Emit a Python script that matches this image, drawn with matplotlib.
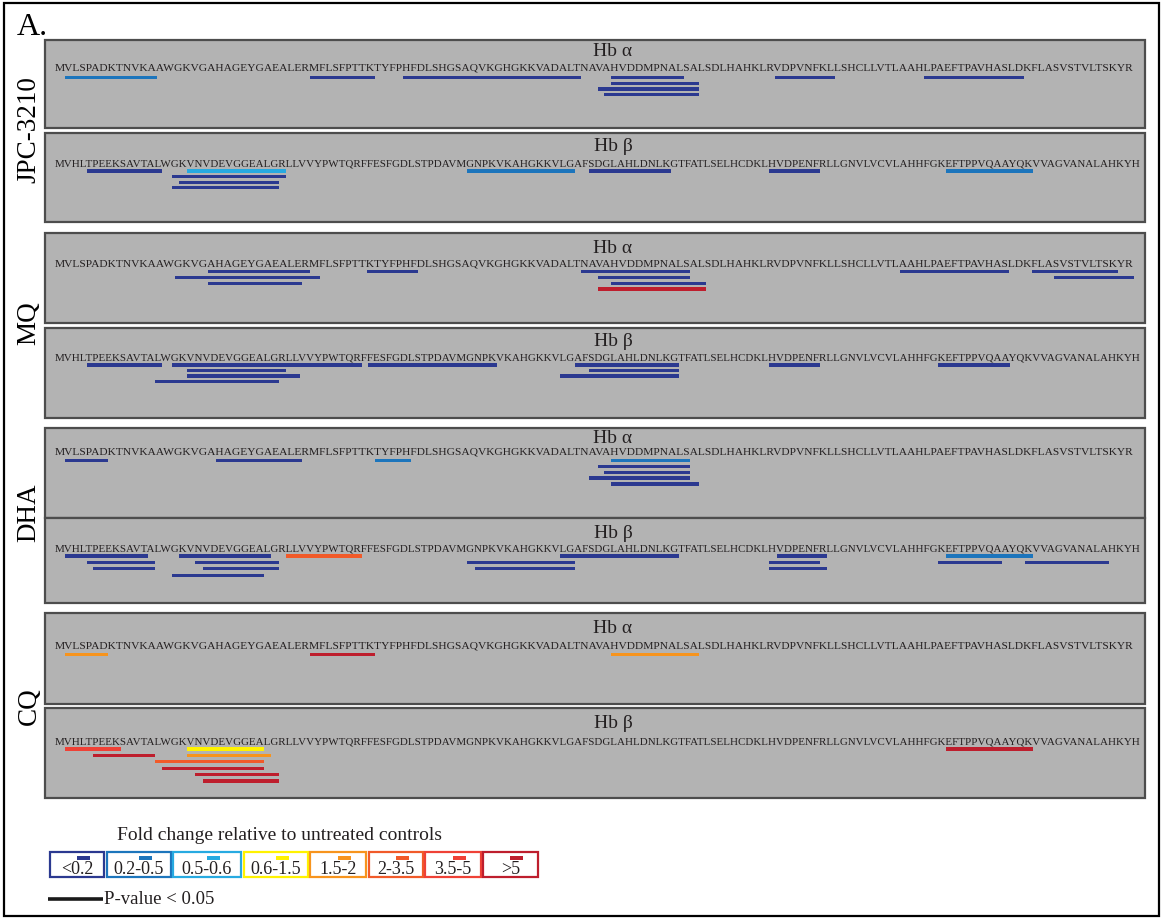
import matplotlib.pyplot as plt
from matplotlib.patches import Rectangle
from matplotlib.font_manager import FontProperties

plt.rcParams['font.family'] = ['Liberation Serif', 'DejaVu Serif']

HBA = "MVLSPADKTNVKAAWGKVGAHAGEYGAEALERMFLSFPTTKTYFPHFDLSHGSAQVKGHGKKVADALTNAVAHVDDMPNALSALSDLHAHKLRVDPVNFKLLSHCLLVTLAAHLPAEFTPAVHASLDKFLASVSTVLTSKYR"
HBB = "MVHLTPEEKSAVTALWGKVNVDEVGGEALGRLLVVYPWTQRFFESFGDLSTPDAVMGNPKVKAHGKKVLGAFSDGLAHLDNLKGTFATLSELHCDKLHVDPENFRLLGNVLVCVLAHHFGKEFTPPVQAAYQKVVAGVANALAHKYH"

fold_bins = ['<0.2', '0.2-0.5', '0.5-0.6', '0.6-1.5', '1.5-2', '2-3.5', '3.5-5', '>5']
bin_colors = ['#2b3990', '#1c75bc', '#27aae1', '#fff200', '#f7941d', '#f15a29', '#ef4136', '#be1e2d']

treatments = ['JPC-3210', 'MQ', 'DHA', 'CQ']

# peptides: (first residue, last residue, fold-change bin, row), residues are 0-based string positions
jpc_a = [(1, 12, 1, 0), (32, 40, 0, 0), (45, 50, 0, 0), (51, 67, 0, 0), (72, 80, 0, 0),
         (93, 100, 0, 0), (113, 126, 0, 0),
         (72, 82, 0, 1), (70, 82, 0, 2), (71, 82, 0, 3)]
jpc_b = [(4, 14, 0, 0), (18, 30, 2, 0), (56, 69, 1, 0), (72, 82, 0, 0), (97, 103, 0, 0), (121, 132, 1, 0),
         (16, 30, 0, 1), (17, 29, 0, 2), (16, 29, 0, 3)]
mq_a = [(19, 31, 0, 0), (40, 46, 0, 0), (68, 81, 0, 0), (110, 124, 0, 0), (128, 139, 0, 0),
        (15, 32, 0, 1), (70, 81, 0, 1), (131, 141, 0, 1),
        (19, 30, 0, 2), (72, 83, 0, 2),
        (70, 83, 7, 3)]
mq_b = [(4, 14, 0, 0), (16, 40, 0, 0), (42, 59, 0, 0), (70, 83, 0, 0), (97, 103, 0, 0), (120, 129, 0, 0),
        (18, 30, 0, 1), (72, 83, 0, 1),
        (18, 32, 0, 2), (68, 83, 0, 2),
        (14, 29, 0, 3)]
dha_a = [(1, 6, 0, 0), (20, 30, 0, 0), (41, 45, 1, 0), (72, 81, 1, 0),
         (70, 81, 0, 1), (71, 81, 0, 2), (69, 81, 0, 3), (72, 82, 0, 4)]
dha_b = [(1, 12, 0, 0), (17, 28, 0, 0), (31, 40, 5, 0), (68, 83, 0, 0), (98, 104, 0, 0), (121, 132, 1, 0),
         (4, 13, 0, 1), (19, 29, 0, 1), (56, 69, 0, 1), (97, 103, 0, 1), (120, 128, 0, 1), (132, 142, 0, 1),
         (5, 13, 0, 2), (20, 29, 0, 2), (57, 69, 0, 2), (97, 104, 0, 2),
         (16, 27, 0, 3)]
cq_a = [(1, 6, 4, 0), (32, 40, 7, 0), (72, 82, 4, 0)]
cq_b = [(1, 8, 6, 0), (18, 27, 3, 0), (121, 132, 7, 0),
        (5, 13, 7, 1), (18, 28, 4, 1),
        (14, 27, 5, 2), (15, 27, 7, 3), (19, 29, 7, 4), (20, 29, 7, 5)]

# panel layout in pixels: top, bottom, title baseline, sequence baseline, first bar row, row step
panels = [
    ('Hb α', HBA, jpc_a, 40, 128, 55.5, 71.0, 77.8, 5.6),
    ('Hb β', HBB, jpc_b, 133, 222, 151, 166.0, 171.0, 5.6),
    ('Hb α', HBA, mq_a, 233, 323, 253, 267.0, 271.7, 5.8),
    ('Hb β', HBB, mq_b, 328, 418, 346, 361.0, 365.0, 5.5),
    ('Hb α', HBA, dha_a, 428, 518, 443, 455.0, 460.7, 5.8),
    ('Hb β', HBB, dha_b, 518, 603, 538, 551.5, 556.0, 6.4),
    ('Hb α', HBA, cq_a, 613, 704, 633, 649.0, 654.3, 6.0),
    ('Hb β', HBB, cq_b, 708, 798, 728, 744.0, 749.0, 6.4),
]
label_y = [130, 323, 513, 706]

W, H = 1162, 918
fig = plt.figure(figsize=(W / 100, H / 100), dpi=100)
ax = fig.add_axes([0, 0, 1, 1])
ax.set_xlim(0, W)
ax.set_ylim(H, 0)
ax.axis('off')
renderer = fig.canvas.get_renderer()

SEQ_X0, SEQ_W = 54.8, 1082.0


def text_width(s, size):
    if not s:
        return 0.0
    fp = FontProperties(family='Liberation Serif', size=size)
    w, h, d = renderer.get_text_width_height_descent(s, fp, ismath=False)
    return w


# outer frame
ax.add_patch(Rectangle((4, 3), 1155, 913, facecolor='none', edgecolor='black', lw=1.6, zorder=1))
ax.text(17, 35, 'A.', fontsize=23, color='black', va='baseline')

for title, seq, peps, top, bot, ty, sy, by, step in panels:
    ax.add_patch(Rectangle((45, top), 1100, bot - top, facecolor='#b3b3b3',
                           edgecolor='#4d4d4d', lw=1.6, zorder=2))
    ax.text(613, ty, title, fontsize=14, ha='center', va='baseline', color='#231f20', zorder=4)
    fs = 10 * SEQ_W / text_width(seq, 10)
    ax.text(SEQ_X0, sy, seq, fontsize=fs, ha='left', va='baseline', color='#231f20', zorder=4)
    for a, b, cat, row in peps:
        x0 = SEQ_X0 + text_width(seq[:a], fs)
        x1 = SEQ_X0 + text_width(seq[:b + 1], fs)
        ax.barh(by + row * step, x1 - x0, left=x0, height=3.3, color=bin_colors[cat], zorder=3)

for name, y in zip(treatments, label_y):
    ax.text(29, y, name, fontsize=19.5, rotation=90, ha='center', va='center', color='black')

# legend
ax.text(117, 840, 'Fold change relative to untreated controls', fontsize=14, va='baseline', color='#231f20')
box_left = [50, 106.5, 173, 244, 310, 368.5, 425, 482.5]
box_right = [104, 171, 240.5, 308, 366, 423, 481, 538]
for lab, col, l, r in zip(fold_bins, bin_colors, box_left, box_right):
    ax.add_patch(Rectangle((l, 852), r - l, 25, facecolor='white', edgecolor=col, lw=1.6, zorder=2))
    cx = (l + r) / 2
    ax.text(cx, 873.5, lab, fontsize=13, ha='center', va='baseline', color='#231f20', zorder=3)
    ax.add_patch(Rectangle((cx, 856), 13, 4, facecolor=col, edgecolor='none', zorder=3))
ax.plot([48, 103], [899, 899], color='#1a1a1a', lw=2.6, solid_capstyle='butt')
ax.text(104, 904, 'P-value < 0.05', fontsize=13.5, va='baseline', color='#231f20')

fig.savefig('out.png', dpi=100)
